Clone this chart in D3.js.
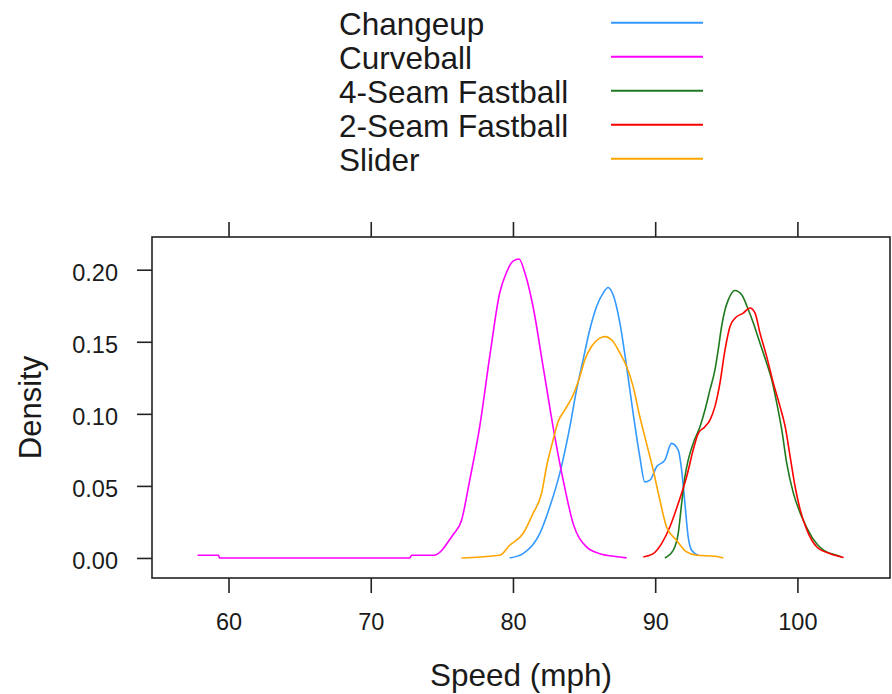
<!DOCTYPE html>
<html>
<head>
<meta charset="utf-8">
<script src="https://cdn.jsdelivr.net/npm/d3@7"></script>
<style>
  body { margin: 0; background: #fff; }
  text { font-family: "Liberation Sans", Arial, sans-serif; fill: #1a1a1a; }
</style>
</head>
<body>
<svg id="chart" width="892" height="694"></svg>
<script>
// pitch types, legend order
const pitchNames = ["Changeup", "Curveball", "4-Seam Fastball", "2-Seam Fastball", "Slider"];
const pitchColors = ["#3399ff", "#ff00ff", "#1f7a1f", "#ff0000", "#ffa500"];

// density curves (speed in mph, density)
const changeupSpeed = [79.77, 80.71, 81.89, 82.59, 83.29, 84.0, 84.47, 84.93, 85.40, 85.88, 86.34, 86.69, 87.04, 87.52, 87.99, 88.45, 88.92, 89.27, 89.63, 90.10, 90.68, 91.15, 91.62, 91.86, 92.09, 92.32, 92.56, 93.03];
const changeupDensity = [0, 0.003, 0.017, 0.0355, 0.0587, 0.091, 0.1166, 0.1374, 0.1583, 0.1745, 0.1838, 0.1877, 0.1826, 0.163, 0.1328, 0.1004, 0.0702, 0.0528, 0.054, 0.0633, 0.0679, 0.0795, 0.0749, 0.061, 0.0378, 0.0146, 0.0054, 0.0019];

const curveballSpeed = [57.82, 59.30, 59.37, 72.74, 72.88, 74.43, 75.76, 76.38, 76.96, 77.66, 78.37, 79.07, 79.54, 80.01, 80.43, 80.83, 81.41, 82.12, 82.82, 83.53, 84.23, 85.17, 86.11, 87.52, 87.99];
const curveballDensity = [0.0019, 0.0019, 0, 0, 0.0019, 0.0019, 0.0158, 0.026, 0.054, 0.091, 0.140, 0.184, 0.198, 0.206, 0.2074, 0.198, 0.1745, 0.1328, 0.091, 0.054, 0.024, 0.0077, 0.003, 0.0007, 0];

const fourSeamSpeed = [90.68, 91.27, 91.62, 91.86, 92.09, 92.32, 92.67, 93.15, 93.50, 93.85, 94.20, 94.43, 94.67, 94.91, 95.14, 95.61, 96.08, 96.55, 96.90, 97.37, 97.84, 98.20, 98.55, 98.90, 99.25, 99.72, 100.31, 101.01, 101.83, 102.77, 103.12];
const fourSeamDensity = [0, 0.0054, 0.017, 0.0378, 0.0563, 0.0679, 0.0795, 0.0911, 0.1027, 0.1166, 0.1305, 0.1444, 0.1606, 0.1722, 0.1791, 0.1856, 0.1826, 0.1722, 0.163, 0.149, 0.1351, 0.1235, 0.1073, 0.0888, 0.0656, 0.0448, 0.0285, 0.0146, 0.0054, 0.0019, 0.0007];

const twoSeamSpeed = [89.16, 89.86, 90.45, 91.03, 91.62, 92.21, 92.67, 93.03, 93.50, 93.85, 94.20, 94.55, 94.91, 95.26, 95.61, 96.19, 96.66, 97.02, 97.37, 97.84, 98.31, 98.78, 99.14, 99.49, 99.84, 100.20, 100.67, 101.37, 102.31, 103.25];
const twoSeamDensity = [0.0007, 0.003, 0.01, 0.0215, 0.0378, 0.0563, 0.0749, 0.0865, 0.0911, 0.0957, 0.105, 0.1212, 0.1444, 0.1606, 0.1664, 0.1699, 0.1734, 0.1699, 0.156, 0.1397, 0.1212, 0.105, 0.0911, 0.0702, 0.0494, 0.0332, 0.0193, 0.0076, 0.003, 0.0003];

const sliderSpeed = [76.38, 79.07, 79.77, 80.71, 81.41, 82.01, 82.36, 82.82, 83.17, 83.65, 84.23, 84.70, 85.05, 85.52, 86.11, 86.46, 87.04, 87.52, 87.99, 88.45, 88.92, 89.39, 89.86, 90.33, 90.80, 91.50, 92.21, 92.91, 94.20, 94.79];
const sliderDensity = [0, 0.0019, 0.0088, 0.017, 0.0309, 0.0448, 0.0633, 0.0818, 0.0945, 0.1027, 0.1131, 0.1258, 0.1374, 0.1467, 0.1525, 0.1536, 0.1502, 0.1421, 0.1328, 0.1189, 0.098, 0.0795, 0.061, 0.0401, 0.0215, 0.0123, 0.0042, 0.0019, 0.0012, 0];

const xTicks = [60, 70, 80, 90, 100];
const yTicks = [0, 0.05, 0.10, 0.15, 0.20];

const seriesSpeed = [changeupSpeed, curveballSpeed, fourSeamSpeed, twoSeamSpeed, sliderSpeed];
const seriesDensity = [changeupDensity, curveballDensity, fourSeamDensity, twoSeamDensity, sliderDensity];

const series = pitchNames.map((name, i) => ({
  name: name,
  color: pitchColors[i],
  values: seriesSpeed[i].map((s, j) => [s, seriesDensity[i][j]])
}));

// plot box
const box = { left: 152, right: 890, top: 237, bottom: 578 };

const x = d3.scaleLinear().domain([54.62, 106.51]).range([box.left, box.right]);
const y = d3.scaleLinear().domain([-0.0139, 0.2227]).range([box.bottom, box.top]);

const svg = d3.select("#chart");

// axes (ticks only, box drawn separately)
const tickColor = "#222";

const gx = svg.append("g")
  .attr("transform", "translate(0," + box.bottom + ")")
  .call(d3.axisBottom(x).tickValues(xTicks).tickSize(15).tickPadding(20).tickFormat(d3.format("d")));
const gxTop = svg.append("g")
  .attr("transform", "translate(0," + box.top + ")")
  .call(d3.axisTop(x).tickValues(xTicks).tickSize(15).tickFormat(""));
const gy = svg.append("g")
  .attr("transform", "translate(" + box.left + ",0)")
  .call(d3.axisLeft(y).tickValues(yTicks).tickSize(15).tickPadding(19).tickFormat(d3.format(".2f")));

[gx, gxTop, gy].forEach(g => {
  g.select(".domain").remove();
  g.selectAll(".tick line").attr("stroke", tickColor).attr("stroke-width", 1.6);
  g.selectAll(".tick text")
    .attr("font-family", "Liberation Sans, Arial, sans-serif")
    .attr("font-size", 23.5)
    .attr("fill", "#1a1a1a");
});
gy.selectAll(".tick text").attr("dy", "0.45em");

svg.append("rect")
  .attr("x", box.left)
  .attr("y", box.top)
  .attr("width", box.right - box.left)
  .attr("height", box.bottom - box.top)
  .attr("fill", "none")
  .attr("stroke", tickColor)
  .attr("stroke-width", 1.6);

// density lines
const line = d3.line()
  .x(d => x(d[0]))
  .y(d => y(d[1]))
  .curve(d3.curveMonotoneX);

svg.append("g")
  .selectAll("path")
  .data(series)
  .enter()
  .append("path")
  .attr("d", d => line(d.values))
  .attr("fill", "none")
  .attr("stroke", d => d.color)
  .attr("stroke-width", 1.6);

// axis titles
svg.append("text")
  .attr("x", (box.left + box.right) / 2)
  .attr("y", 686)
  .attr("text-anchor", "middle")
  .attr("font-size", 31.5)
  .text("Speed (mph)");

svg.append("text")
  .attr("transform", "translate(41," + (box.top + box.bottom) / 2 + ") rotate(-90)")
  .attr("text-anchor", "middle")
  .attr("font-size", 31)
  .text("Density");

// legend
const legend = svg.append("g")
  .selectAll("g")
  .data(series)
  .enter()
  .append("g")
  .attr("transform", (d, i) => "translate(0," + (22.7 + i * 34) + ")");

legend.append("text")
  .attr("x", 339)
  .attr("y", 12)
  .attr("font-size", 31.5)
  .text(d => d.name);

legend.append("line")
  .attr("x1", 611)
  .attr("x2", 703)
  .attr("stroke", d => d.color)
  .attr("stroke-width", 2);
</script>
</body>
</html>
